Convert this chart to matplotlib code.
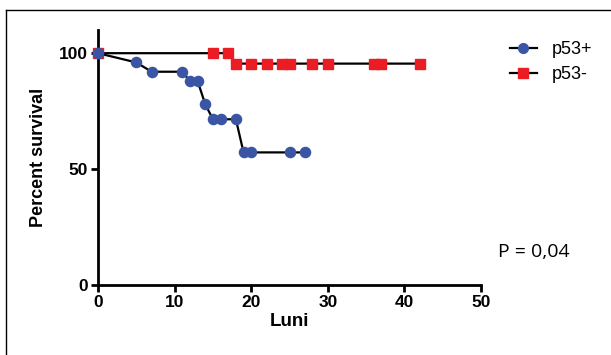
import matplotlib
matplotlib.use('Agg')
import matplotlib.pyplot as plt
from matplotlib.lines import Line2D

# p53+ group (luni, percent survival)
pos_months = [0, 5, 7, 11, 12, 13, 14, 15, 16, 18, 19, 20, 25, 27]
pos_survival = [100, 96, 92, 92, 88, 88, 78, 71.5, 71.5, 71.5, 57.2, 57.2, 57.2, 57.2]

# p53- group
neg_months = [0, 15, 17, 18, 20, 22, 24, 25, 28, 30, 36, 37, 42]
neg_survival = [100, 100, 100, 95.5, 95.5, 95.5, 95.5, 95.5, 95.5, 95.5, 95.5, 95.5, 95.5]

x_ticks = [0, 10, 20, 30, 40, 50]
y_ticks = [0, 50, 100]
p_text = 'P = 0,04'

blue = '#3b55a5'
red = '#ec1c24'

plt.rcParams['font.family'] = ['Liberation Sans', 'DejaVu Sans']

fig = plt.figure(figsize=(6.11, 3.55), dpi=100)
ax = fig.add_axes([98 / 611, 1 - 285 / 355, 383 / 611, 255 / 355])

ax.plot(neg_months, neg_survival, color='black', lw=1.6, marker='s', ms=7.3,
        mfc=red, mec=red, clip_on=False, zorder=3)
ax.plot(pos_months, pos_survival, color='black', lw=1.6, marker='o', ms=7.3,
        mfc=blue, mec=blue, clip_on=False, zorder=4)

ax.set_xlim(0, 50)
ax.set_ylim(0, 110)
ax.set_xticks(x_ticks)
ax.set_yticks(y_ticks)
ax.set_xticklabels([str(t) for t in x_ticks], fontweight='bold', fontsize=12.5)
ax.set_yticklabels([str(t) for t in y_ticks], fontweight='bold', fontsize=12.5)
ax.tick_params(direction='out', length=5, width=2, pad=2)

for s in ['top', 'right']:
    ax.spines[s].set_visible(False)
for s in ['left', 'bottom']:
    ax.spines[s].set_linewidth(2)

ax.set_xlabel('Luni', fontweight='bold', fontsize=13.5, labelpad=2)
ax.set_ylabel('Percent survival', fontweight='bold', fontsize=13, labelpad=9)

handles = [
    Line2D([], [], color='black', lw=1.6, marker='o', ms=7, mfc=blue, mec=blue),
    Line2D([], [], color='black', lw=1.6, marker='s', ms=7, mfc=red, mec=red),
]
fig.legend(handles, ['p53+', 'p53-'], loc='upper left',
           bbox_to_anchor=(0.808, 0.93), frameon=False, fontsize=13,
           handlelength=1.5, handletextpad=0.8, labelspacing=0.45)

fig.text(498 / 611, 1 - 252 / 355, p_text, fontsize=14, va='center',
         family=['Open Sans', 'DejaVu Sans'])

# outer frame of the picture
fig.add_artist(Line2D([6 / 611, 1.0], [1 - 10 / 355, 1 - 10 / 355],
                      transform=fig.transFigure, color='black', lw=1))
fig.add_artist(Line2D([6 / 611, 6 / 611], [1 - 10 / 355, 0.0],
                      transform=fig.transFigure, color='black', lw=1))

fig.savefig('out.png', dpi=100)
